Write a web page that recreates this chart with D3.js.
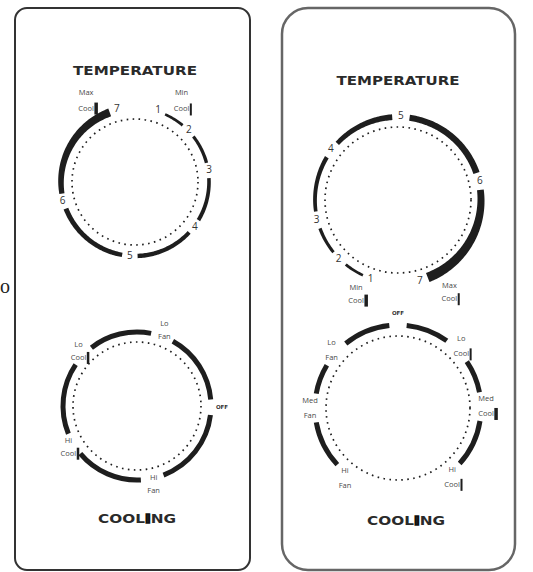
<!DOCTYPE html>
<html>
<head>
<meta charset="utf-8">
<script src="https://cdn.jsdelivr.net/npm/d3@7"></script>
<style>
  body { margin: 0; background: #fff; }
</style>
</head>
<body>
<div id="chart"></div>
<script>
/* DATA */
const tempLevels = [1, 2, 3, 4, 5, 6, 7];
const tempEndLabels = ["Min Cool", "Max Cool"];
const coolModesLeft = ["Lo Fan", "OFF", "Hi Fan", "Hi Cool", "Lo Cool"];
const coolModesRight = ["OFF", "Lo Cool", "Med Cool", "Hi Cool", "Hi Fan", "Med Fan", "Lo Fan"];
const headings = ["TEMPERATURE", "COOLING"];

/* CONSTANTS AND GLOBALS */
const width = 533;
const height = 572;
const deg = Math.PI / 180;
const ink = "#1e1e1e";
const small = "#4a4a4a";

const svg = d3.select("#chart")
  .append("svg")
  .attr("width", width)
  .attr("height", height)
  .style("background-color", "white");

// stray letter on the far left edge
svg.append("text")
  .attr("x", 0).attr("y", 293)
  .attr("font-family", "Liberation Serif")
  .attr("font-size", 20)
  .attr("fill", ink)
  .text("o");

/* PANELS */
const panels = [
  { x: 15, y: 8, w: 235, h: 562, rx: 12, stroke: "#333", sw: 2 },
  { x: 282, y: 8, w: 233, h: 562, rx: 26, stroke: "#666", sw: 2.5 }
];
svg.selectAll(".panel")
  .data(panels)
  .join("rect")
  .attr("class", "panel")
  .attr("x", d => d.x).attr("y", d => d.y)
  .attr("width", d => d.w).attr("height", d => d.h)
  .attr("rx", d => d.rx)
  .attr("fill", "white")
  .attr("stroke", d => d.stroke)
  .attr("stroke-width", d => d.sw);

function heading(txt, x, y, len) {
  const t = svg.append("text")
    .attr("x", x).attr("y", y)
    .attr("text-anchor", "middle")
    .attr("font-family", "DejaVu Sans")
    .attr("font-weight", "bold")
    .attr("font-size", 13)
    .attr("fill", "#2a2a2a")
    .attr("textLength", len)
    .attr("lengthAdjust", "spacingAndGlyphs");
  if (txt === "COOLING") {
    t.append("tspan").text("COOL");
    t.append("tspan").attr("stroke", "#111").attr("stroke-width", 1.6).text("I");
    t.append("tspan").text("NG");
  } else {
    t.text(txt);
  }
}
heading(headings[0], 135, 75, 124);
heading(headings[0], 398, 85, 123);
heading(headings[1], 137, 523, 78);
heading(headings[1], 406, 525, 78);

const polar = (a, r) => [r * Math.sin(a * deg), -r * Math.cos(a * deg)];

// two-line label, optional bar right after the second word
function wordLabel(g, name, a, r, lineGap, bar) {
  const [x, y] = polar(a, r);
  const lg = g.append("g").attr("transform", `translate(${x},${y})`);
  const words = name.split(" ");
  if (words.length === 1) {
    lg.append("text")
      .attr("text-anchor", "middle")
      .attr("dominant-baseline", "middle")
      .attr("font-family", "DejaVu Sans")
      .attr("font-weight", "bold")
      .attr("font-size", 5.5)
      .attr("fill", "#333")
      .text(name);
    return;
  }
  words.forEach((w, i) => {
    const t = lg.append("text")
      .attr("y", (i === 0 ? -1 : 1) * lineGap / 2)
      .attr("text-anchor", "middle")
      .attr("dominant-baseline", "middle")
      .attr("font-family", "Open Sans")
      .attr("font-size", 7.5)
      .attr("fill", small)
      .text(w);
    if (i === 1 && w === "Cool" && bar) {
      const half = t.node().getComputedTextLength() / 2;
      lg.append("rect")
        .attr("x", half + 0.5)
        .attr("y", lineGap / 2 - 6)
        .attr("width", bar)
        .attr("height", 12)
        .attr("fill", ink);
    }
  });
}

function dottedRing(g, r) {
  g.append("circle")
    .attr("r", r)
    .attr("fill", "none")
    .attr("stroke", ink)
    .attr("stroke-width", 1.7)
    .attr("stroke-dasharray", "1.6 4.4");
}

/* TEMPERATURE DIALS */
function tempDial(cfg) {
  const g = svg.append("g").attr("transform", `translate(${cfg.cx},${cfg.cy})`);
  const angle = d3.scaleLinear().domain(tempLevels).range(cfg.angles);
  const thick = d3.scaleLinear().domain(tempLevels).range(cfg.widths);

  dottedRing(g, cfg.rDot);

  const band = d3.areaRadial()
    .angle(d => d * deg)
    .innerRadius(d => cfg.r - thick(angle.invert(d)) / 2)
    .outerRadius(d => cfg.r + thick(angle.invert(d)) / 2);

  g.selectAll(".seg")
    .data(d3.pairs(tempLevels))
    .join("path")
    .attr("class", "seg")
    .attr("fill", ink)
    .attr("d", ([a, b]) => {
      const a0 = angle(a) + cfg.gap, a1 = angle(b) - cfg.gap;
      return band(d3.range(a0, a1, 1).concat([a1]));
    });

  g.selectAll(".num")
    .data(tempLevels)
    .join("text")
    .attr("class", "num")
    .attr("x", d => polar(angle(d), cfg.rNum)[0])
    .attr("y", d => polar(angle(d), cfg.rNum)[1])
    .attr("text-anchor", "middle")
    .attr("dominant-baseline", "middle")
    .attr("font-family", "Open Sans")
    .attr("font-size", 10)
    .attr("fill", "#333")
    .text(d => d);

  cfg.ends.forEach((e, i) => wordLabel(g, tempEndLabels[i], e.a, e.r, cfg.lineGap, e.bar));
}

tempDial({
  cx: 135, cy: 182, r: 74, rDot: 63, rNum: 75, gap: 6, lineGap: 16,
  angles: [18, 46, 81, 127, 184, 255, 346],
  widths: [2.5, 3, 3.5, 4, 4.5, 5, 8.5],
  ends: [{ a: 30, r: 93, bar: 2 }, { a: -31, r: 95, bar: 3.5 }]
});
tempDial({
  cx: 398, cy: 200, r: 83, rDot: 73, rNum: 84, gap: 6, lineGap: 13,
  angles: [199, 225, 256, 307, 362, 437, 525],
  widths: [2.5, 3, 3.5, 4.5, 6, 6.5, 10],
  ends: [{ a: 204, r: 103, bar: 3.5 }, { a: 151, r: 106, bar: 2 }]
});

/* COOLING DIALS */
function coolDial(cfg) {
  const g = svg.append("g").attr("transform", `translate(${cfg.cx},${cfg.cy})`);
  const angle = d3.scaleOrdinal().domain(cfg.modes).range(cfg.angles);
  const gap = m => (m === "OFF" ? cfg.offGap : cfg.gap);

  dottedRing(g, cfg.rDot);

  const segs = d3.pairs(cfg.modes.concat([cfg.modes[0]]))
    .filter(([a, b]) => !(a === cfg.skip[0] && b === cfg.skip[1]));

  const arc = d3.arc()
    .innerRadius(cfg.r - cfg.w / 2)
    .outerRadius(cfg.r + cfg.w / 2);

  g.selectAll(".seg")
    .data(segs)
    .join("path")
    .attr("class", "seg")
    .attr("fill", ink)
    .attr("d", ([a, b]) => {
      const a0 = angle(a) + gap(a);
      let a1 = angle(b) - gap(b);
      if (a1 < a0) a1 += 360;
      return arc({ startAngle: a0 * deg, endAngle: a1 * deg });
    });

  cfg.modes.forEach((m, i) => {
    wordLabel(g, m, angle(m), m === "OFF" ? cfg.rOff : cfg.rLabel, cfg.lineGap, cfg.bars[i]);
  });
}

coolDial({
  cx: 137, cy: 406, r: 74, rDot: 64, w: 5, gap: 9, offGap: 6,
  rLabel: 80, rOff: 85, lineGap: 13,
  modes: coolModesLeft,
  angles: [20, 91, 168, 239, 313],
  bars: [0, 0, 0, 2.5, 2.5],
  skip: []
});
coolDial({
  cx: 398, cy: 408, r: 83, rDot: 72, w: 5, gap: 10, offGap: 6,
  rLabel: 88, rOff: 95, lineGap: 15,
  modes: coolModesRight,
  angles: [0, 46, 89, 142, 217, 270, 311],
  bars: [0, 2, 3.5, 2, 0, 0, 0],
  skip: ["Hi Cool", "Hi Fan"]
});
</script>
</body>
</html>
